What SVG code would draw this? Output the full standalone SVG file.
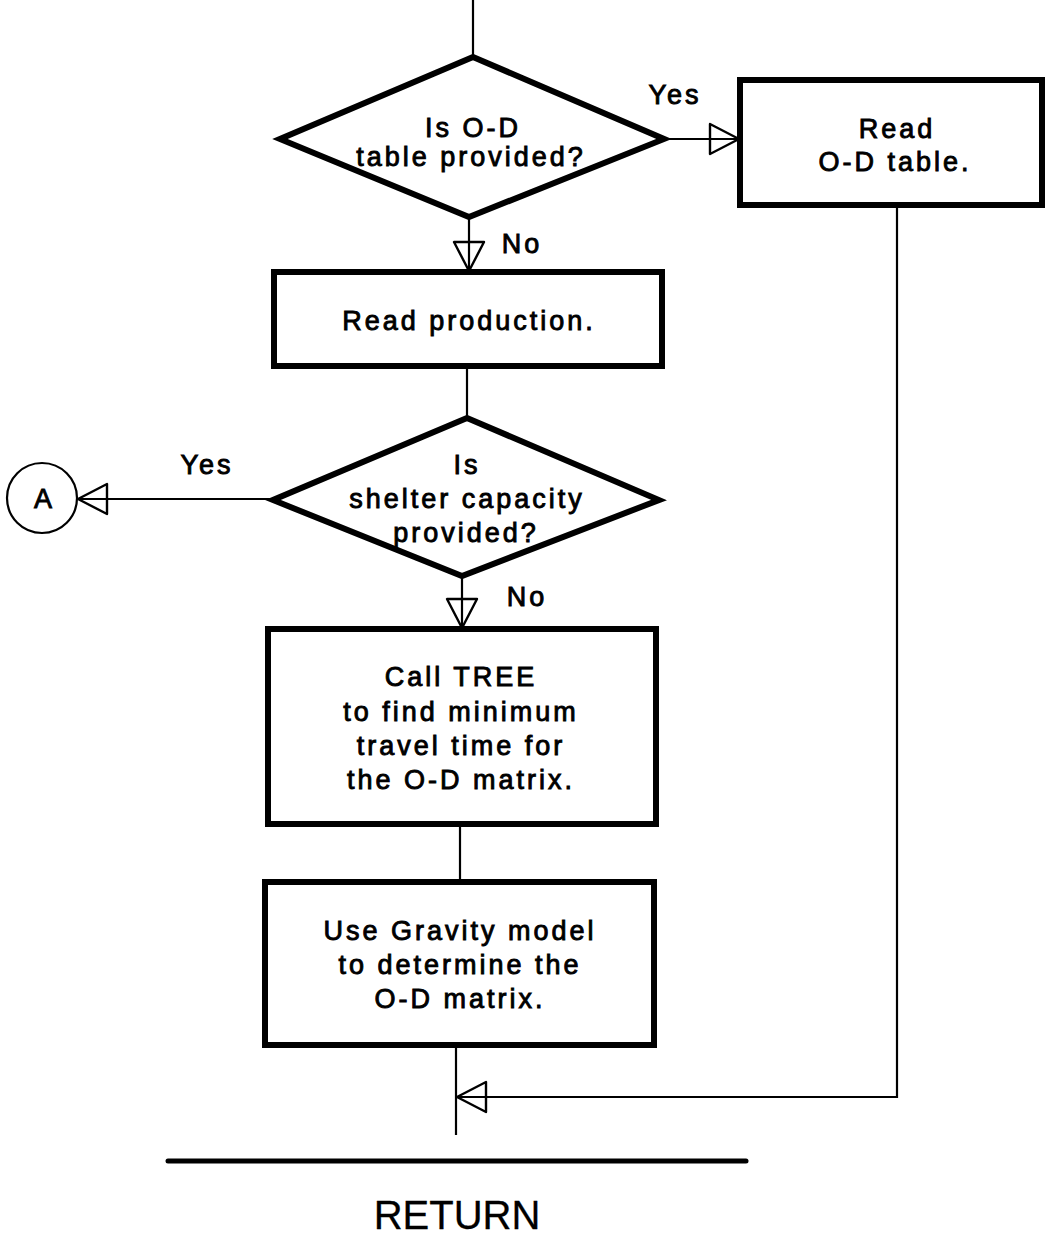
<svg xmlns="http://www.w3.org/2000/svg" width="1048" height="1236" viewBox="0 0 1048 1236">
  <style>
    .shape { fill: #fff; stroke: #000; stroke-width: 6; stroke-linejoin: miter; }
    .link { fill: none; stroke: #000; stroke-width: 2.2; }
    .t { font-family: "Liberation Sans", Arial, sans-serif; font-size: 27px; letter-spacing: 3px; fill: #000; stroke: #000; stroke-width: 0.9; text-anchor: middle; }
    .ret { font-family: "Liberation Sans", Arial, sans-serif; font-size: 40px; fill: #000; stroke: #000; stroke-width: 0.3; text-anchor: middle; }
  </style>
  <defs>
    <!-- open triangular arrowhead, tip at the path end -->
    <marker id="open" markerUnits="userSpaceOnUse" viewBox="-3 -3 36 36" markerWidth="36" markerHeight="36" refX="29" refY="15" orient="auto">
      <path d="M0,0 L29,15 L0,30 Z" fill="none" stroke="#000" stroke-width="2.4" stroke-linejoin="round"/>
    </marker>
  </defs>

  <rect width="1048" height="1236" fill="#fff"/>

  <!-- connectors -->
  <g id="connectors">
    <line class="link" x1="473" y1="0" x2="473" y2="57"/>
    <line class="link" x1="664" y1="139" x2="739" y2="139" marker-end="url(#open)"/>
    <line class="link" x1="469" y1="217" x2="469" y2="271" marker-end="url(#open)"/>
    <line class="link" x1="467" y1="366" x2="467" y2="418"/>
    <line class="link" x1="273" y1="499" x2="78" y2="499" marker-end="url(#open)"/>
    <line class="link" x1="462" y1="576" x2="462" y2="628" marker-end="url(#open)"/>
    <line class="link" x1="460" y1="824" x2="460" y2="882"/>
    <line class="link" x1="456" y1="1045" x2="456" y2="1135"/>
    <polyline class="link" points="897,206 897,1097 457,1097" marker-end="url(#open)"/>
  </g>

  <!-- decision: O-D table provided -->
  <g id="dec-od">
    <polygon class="shape" points="473,57 664,139 469,217 280,139"/>
    <text class="t" x="473" y="137">Is O-D</text>
    <text class="t" x="471" y="166">table provided?</text>
    <text class="t" x="675" y="104">Yes</text>
    <text class="t" x="522" y="253">No</text>
  </g>

  <!-- read O-D table -->
  <g id="read-od">
    <rect class="shape" x="740" y="80" width="302" height="125"/>
    <text class="t" x="897" y="138">Read</text>
    <text class="t" x="895" y="171">O-D table.</text>
  </g>

  <!-- read production -->
  <g id="read-prod">
    <rect class="shape" x="274" y="272" width="388" height="94"/>
    <text class="t" x="469" y="330">Read production.</text>
  </g>

  <!-- decision: shelter capacity provided -->
  <g id="dec-shelter">
    <polygon class="shape" points="467,418 659,500 462,576 273,500"/>
    <text class="t" x="467" y="474">Is</text>
    <text class="t" x="467" y="508">shelter capacity</text>
    <text class="t" x="466" y="542">provided?</text>
    <text class="t" x="207" y="474">Yes</text>
    <text class="t" x="527" y="606">No</text>
  </g>

  <!-- off-page connector A -->
  <g id="conn-a">
    <circle cx="42" cy="498" r="35" fill="#fff" stroke="#000" stroke-width="2.2"/>
    <text class="t" x="43" y="508" style="letter-spacing:0">A</text>
  </g>

  <!-- call TREE -->
  <g id="call-tree">
    <rect class="shape" x="268" y="629" width="388" height="195"/>
    <text class="t" x="461" y="686">Call TREE</text>
    <text class="t" x="461" y="721">to find minimum</text>
    <text class="t" x="461" y="755">travel time for</text>
    <text class="t" x="461" y="789">the O-D matrix.</text>
  </g>

  <!-- gravity model -->
  <g id="gravity">
    <rect class="shape" x="265" y="882" width="389" height="163"/>
    <text class="t" x="460" y="940">Use Gravity model</text>
    <text class="t" x="460" y="974">to determine the</text>
    <text class="t" x="460" y="1008">O-D matrix.</text>
  </g>

  <!-- return -->
  <g id="return">
    <line x1="168" y1="1161" x2="746" y2="1161" stroke="#000" stroke-width="5" stroke-linecap="round"/>
    <text class="ret" x="457" y="1229">RETURN</text>
  </g>
</svg>
